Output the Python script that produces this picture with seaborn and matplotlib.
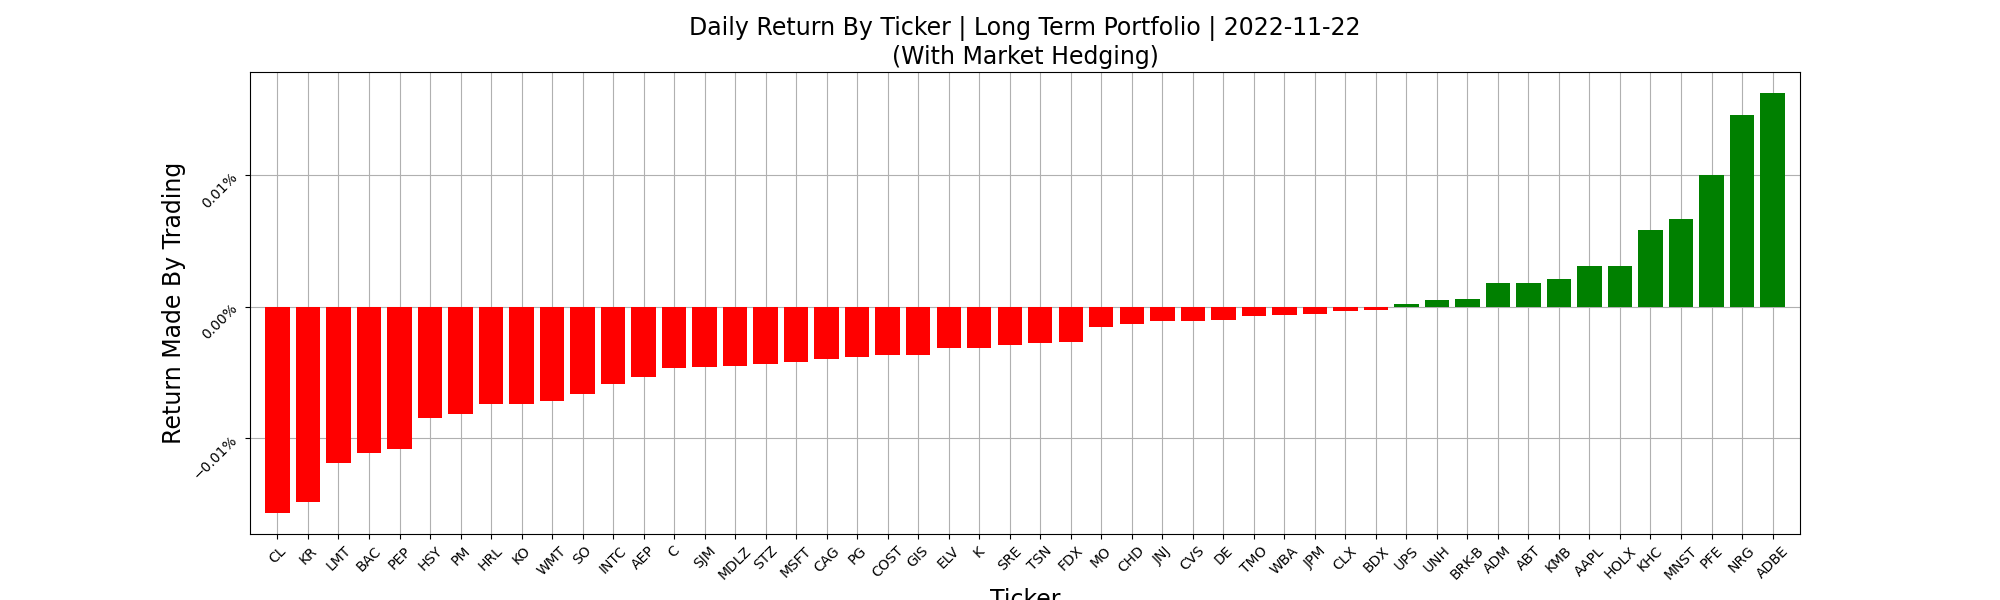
import matplotlib
matplotlib.use("Agg")
import matplotlib.pyplot as plt
import matplotlib.ticker as mtick
import seaborn as sns

# Daily return per ticker (fraction)
tickers = ["CL", "KR", "LMT", "BAC", "PEP", "HSY", "PM", "HRL", "KO", "WMT",
           "SO", "INTC", "AEP", "C", "SJM", "MDLZ", "STZ", "MSFT", "CAG", "PG",
           "COST", "GIS", "ELV", "K", "SRE", "TSN", "FDX", "MO", "CHD", "JNJ",
           "CVS", "DE", "TMO", "WBA", "JPM", "CLX", "BDX", "UPS", "UNH", "BRK-B",
           "ADM", "ABT", "KMB", "AAPL", "HOLX", "KHC", "MNST", "PFE", "NRG", "ADBE"]
returns_bp = [-1.567, -1.483, -1.186, -1.110, -1.080, -0.844, -0.814, -0.738, -0.738, -0.715,
              -0.662, -0.586, -0.532, -0.464, -0.456, -0.449, -0.433, -0.418, -0.395, -0.380,
              -0.365, -0.365, -0.312, -0.312, -0.289, -0.274, -0.266, -0.152, -0.129, -0.106,
              -0.106, -0.099, -0.068, -0.061, -0.053, -0.030, -0.023, 0.018, 0.051, 0.058,
              0.180, 0.180, 0.210, 0.309, 0.309, 0.583, 0.667, 1.001, 1.458, 1.625]
returns = [r * 1e-4 for r in returns_bp]
colors = ["green" if r > 0 else "red" for r in returns]

fig, ax = plt.subplots(figsize=(20, 6), dpi=100)
sns.barplot(x=tickers, y=returns, hue=tickers, palette=colors, legend=False,
            saturation=1, width=0.8, ax=ax, zorder=3)

ax.grid(True, color="#b0b0b0", linewidth=0.8, zorder=0)
ax.set_axisbelow(True)
ax.yaxis.set_major_locator(mtick.MultipleLocator(0.0001))
ax.yaxis.set_major_formatter(mtick.PercentFormatter(xmax=1, decimals=2))
ax.tick_params(axis="x", labelrotation=45)
ax.tick_params(axis="y", labelrotation=45)
ax.set_xlim(-0.9, len(tickers) - 0.1)

ax.set_title("Daily Return By Ticker | Long Term Portfolio | 2022-11-22\n(With Market Hedging)",
             fontsize=17)
ax.set_xlabel("Ticker", fontsize=17)
ax.set_ylabel("Return Made By Trading", fontsize=17)

plt.savefig("out.png", dpi=100)
